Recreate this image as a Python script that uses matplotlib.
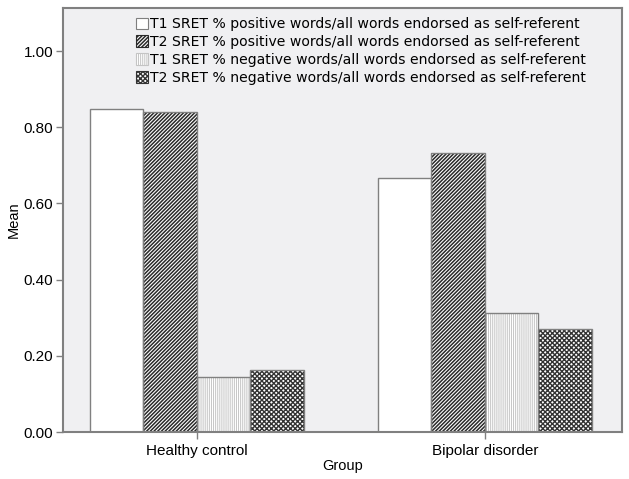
import numpy as np
import matplotlib.pyplot as plt

groups = ['Healthy control', 'Bipolar disorder']
labels = ['T1 SRET % positive words/all words endorsed as self-referent',
          'T2 SRET % positive words/all words endorsed as self-referent',
          'T1 SRET % negative words/all words endorsed as self-referent',
          'T2 SRET % negative words/all words endorsed as self-referent']
t1_pos = [0.848, 0.667]
t2_pos = [0.840, 0.733]
t1_neg = [0.144, 0.313]
t2_neg = [0.163, 0.270]

series = [t1_pos, t2_pos, t1_neg, t2_neg]
hatches = ['', '/' * 9, '|' * 8, 'x' * 7]
hcolors = ['#7f7f7f', '#2a2a2a', '#c4c4c4', '#333333']
hwidths = [1.0, 1.1, 0.7, 1.0]

plt.rcParams['font.family'] = ['Liberation Sans', 'DejaVu Sans']

fig = plt.figure(figsize=(6.29, 4.79), dpi=100)
ax = fig.add_axes([63 / 629, 1 - 432 / 479, 559 / 629, 424 / 479])
ax.set_facecolor('#f0f0f2')

x = np.arange(len(groups))
w = 0.186
for i, vals in enumerate(series):
    bars = ax.bar(x + (i - 1.5) * w, vals, w, color='white', edgecolor=hcolors[i],
                  hatch=hatches[i], linewidth=0, label=labels[i], zorder=2)
    for b in bars:
        b.set_hatch_linewidth(hwidths[i])
    ax.bar(x + (i - 1.5) * w, vals, w, fill=False, edgecolor='#808080',
           linewidth=1.0, zorder=3)

ax.set_xlim(-0.465, 1.476)
ax.set_ylim(0, 1.113)
ax.set_yticks([0, 0.2, 0.4, 0.6, 0.8, 1.0])
ax.set_yticklabels(['%.2f' % v for v in [0, 0.2, 0.4, 0.6, 0.8, 1.0]])
ax.set_xticks(x)
ax.set_xticklabels(groups)
ax.tick_params(labelsize=11, color='#808080', length=5, width=1)
ax.tick_params(axis='y', pad=2)
for s in ax.spines.values():
    s.set_color('#808080')
    s.set_linewidth(1.5)
ax.set_ylabel('Mean', fontsize=10.5, labelpad=2)
ax.set_xlabel('Group', fontsize=10.5, labelpad=1)

leg = ax.legend(loc='upper left', bbox_to_anchor=(0.125, 0.985), frameon=False,
                prop={'family': 'DejaVu Sans', 'size': 10.1},
                handlelength=0.9, handleheight=0.9, handletextpad=0.15,
                labelspacing=0.28, borderaxespad=0, borderpad=0.2)
for i, h in enumerate(leg.legend_handles):
    h.set_linewidth(0.8)
    h.set_hatch_linewidth(hwidths[i])

fig.savefig('out.png', dpi=100)
